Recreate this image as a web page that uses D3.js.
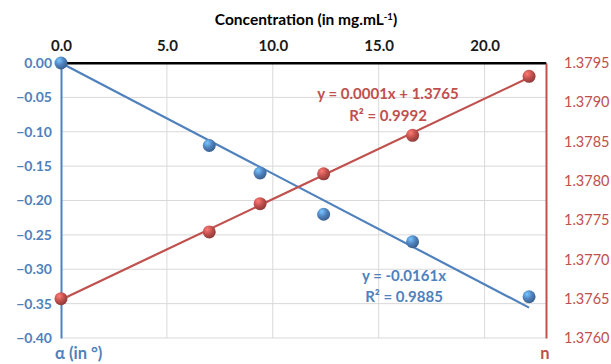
<!DOCTYPE html>
<html><head><meta charset="utf-8">
<script src="https://cdn.jsdelivr.net/npm/d3@7"></script>
<style>body{margin:0;background:#fff}svg{display:block}text{font-family:Lato,"Open Sans",sans-serif}</style>
</head><body>
<script>
const concentration = [0, 7.0, 9.4, 12.4, 16.6, 22.1];
const alphaValues = [0, -0.12, -0.16, -0.22, -0.26, -0.34];
const nValues = [1.3765, 1.37735, 1.37771, 1.37809, 1.37858, 1.37933];
const xTicks = [0, 5, 10, 15, 20];
const alphaTicks = [0, -0.05, -0.10, -0.15, -0.20, -0.25, -0.30, -0.35, -0.40];
const nTicks = [1.3760, 1.3765, 1.3770, 1.3775, 1.3780, 1.3785, 1.3790, 1.3795];
const alphaSlope = -0.0161;
const eqAlpha = ["y = -0.0161x", "R² = 0.9885"];
const eqN = ["y = 0.0001x + 1.3765", "R² = 0.9992"];

const W = 611, H = 364;
const blue = "#4f81bd", red = "#c0504d";
const L = 61, R = 546, T = 63, B = 338;
const svg = d3.select("body").append("svg").attr("width", W).attr("height", H);
const x = d3.scaleLinear().domain([0, 22.9]).range([L, R]);
const yA = d3.scaleLinear().domain([-0.40, 0]).range([B, T]);
const yN = d3.scaleLinear().domain([1.3760, 1.3795]).range([B, T]);

const defs = svg.append("defs");
function grad(id, c) {
  const g = defs.append("radialGradient").attr("id", id).attr("cx", "35%").attr("cy", "30%").attr("r", "70%");
  g.append("stop").attr("offset", "0%").attr("stop-color", d3.color(c).brighter(1.2));
  g.append("stop").attr("offset", "55%").attr("stop-color", c);
  g.append("stop").attr("offset", "100%").attr("stop-color", d3.color(c).darker(0.8));
}
grad("gb", blue); grad("gr", red);

// gridlines
svg.append("g").selectAll("line").data(alphaTicks.slice(1)).join("line")
  .attr("x1", L).attr("x2", R).attr("y1", d => yA(d)).attr("y2", d => yA(d))
  .attr("stroke", "#d9d9d9").attr("stroke-width", 1);
svg.append("g").selectAll("line").data(xTicks.slice(1)).join("line")
  .attr("x1", d => x(d)).attr("x2", d => x(d)).attr("y1", T).attr("y2", B)
  .attr("stroke", "#d9d9d9").attr("stroke-width", 1);

// axes
const topAxis = d3.axisTop(x).tickValues(xTicks).tickFormat(d3.format(".1f")).tickSize(0).tickPadding(12);
const gt = svg.append("g").attr("transform", `translate(0,${T})`).call(topAxis);
gt.select(".domain").attr("stroke", "#000").attr("stroke-width", 2);
gt.selectAll("text").attr("fill", "#1a1a1a").attr("font-size", 15).attr("font-weight", "bold").style("font-family", "Lato");

const leftAxis = d3.axisLeft(yA).tickValues(alphaTicks).tickFormat(d3.format(".2f")).tickSize(0).tickPadding(9);
const gl = svg.append("g").attr("transform", `translate(${L},0)`).call(leftAxis);
gl.select(".domain").attr("stroke", blue).attr("stroke-width", 2);
gl.selectAll("text").attr("fill", blue).attr("font-size", 14).attr("font-weight", "bold").style("font-family", "Lato");

const rightAxis = d3.axisRight(yN).tickValues(nTicks).tickFormat(d3.format(".4f")).tickSize(0).tickPadding(18);
const gr = svg.append("g").attr("transform", `translate(${R},0)`).call(rightAxis);
gr.select(".domain").attr("stroke", red).attr("stroke-width", 2);
gr.selectAll("text").attr("fill", red).attr("font-size", 14.5).style("font-family", "Lato");

svg.append("line").attr("x1", L).attr("x2", R).attr("y1", T).attr("y2", T).attr("stroke", "#000").attr("stroke-width", 2);

// trendlines
const xmax = d3.max(concentration);
svg.append("line").attr("x1", x(0)).attr("y1", yA(0)).attr("x2", x(xmax)).attr("y2", yA(alphaSlope * xmax))
  .attr("stroke", blue).attr("stroke-width", 2.2);
const mx = d3.mean(concentration), my = d3.mean(nValues);
const slope = d3.sum(concentration.map((c, i) => (c - mx) * (nValues[i] - my))) / d3.sum(concentration.map(c => (c - mx) ** 2));
const icpt = my - slope * mx;
svg.append("line").attr("x1", x(0)).attr("y1", yN(icpt)).attr("x2", x(xmax)).attr("y2", yN(icpt + slope * xmax))
  .attr("stroke", red).attr("stroke-width", 2.2);

// points
svg.append("g").selectAll("circle").data(concentration).join("circle")
  .attr("cx", d => x(d)).attr("cy", (d, i) => yN(nValues[i])).attr("r", 6.5).attr("fill", "url(#gr)");
svg.append("g").selectAll("circle").data(concentration).join("circle")
  .attr("cx", d => x(d)).attr("cy", (d, i) => yA(alphaValues[i])).attr("r", 6.5).attr("fill", "url(#gb)");

// equations
svg.append("text").attr("x", 388).attr("y", 99).attr("text-anchor", "middle").attr("fill", red)
  .attr("font-size", 15).attr("font-weight", "bold").text(eqN[0]);
svg.append("text").attr("x", 388).attr("y", 121).attr("text-anchor", "middle").attr("fill", red)
  .attr("font-size", 15).attr("font-weight", "bold").text(eqN[1]);
svg.append("text").attr("x", 404).attr("y", 281).attr("text-anchor", "middle").attr("fill", blue)
  .attr("font-size", 15).attr("font-weight", "bold").text(eqAlpha[0]);
svg.append("text").attr("x", 404).attr("y", 302).attr("text-anchor", "middle").attr("fill", blue)
  .attr("font-size", 15).attr("font-weight", "bold").text(eqAlpha[1]);

// titles
const tt = svg.append("text").attr("x", 306).attr("y", 25).attr("text-anchor", "middle").attr("fill", "#000")
  .attr("font-size", 15.5).attr("font-weight", "bold");
tt.append("tspan").text("Concentration (in mg.mL");
tt.append("tspan").attr("font-size", 9.5).attr("dy", -5).text("-1");
tt.append("tspan").attr("dy", 5).text(")");
svg.append("text").attr("x", 55).attr("y", 359).attr("fill", blue).attr("font-size", 16.5).attr("font-weight", "bold").text("α (in °)");
svg.append("text").attr("x", 545).attr("y", 359).attr("text-anchor", "middle").attr("fill", red).attr("font-size", 16.5).attr("font-weight", "bold").text("n");
</script>
</body></html>
